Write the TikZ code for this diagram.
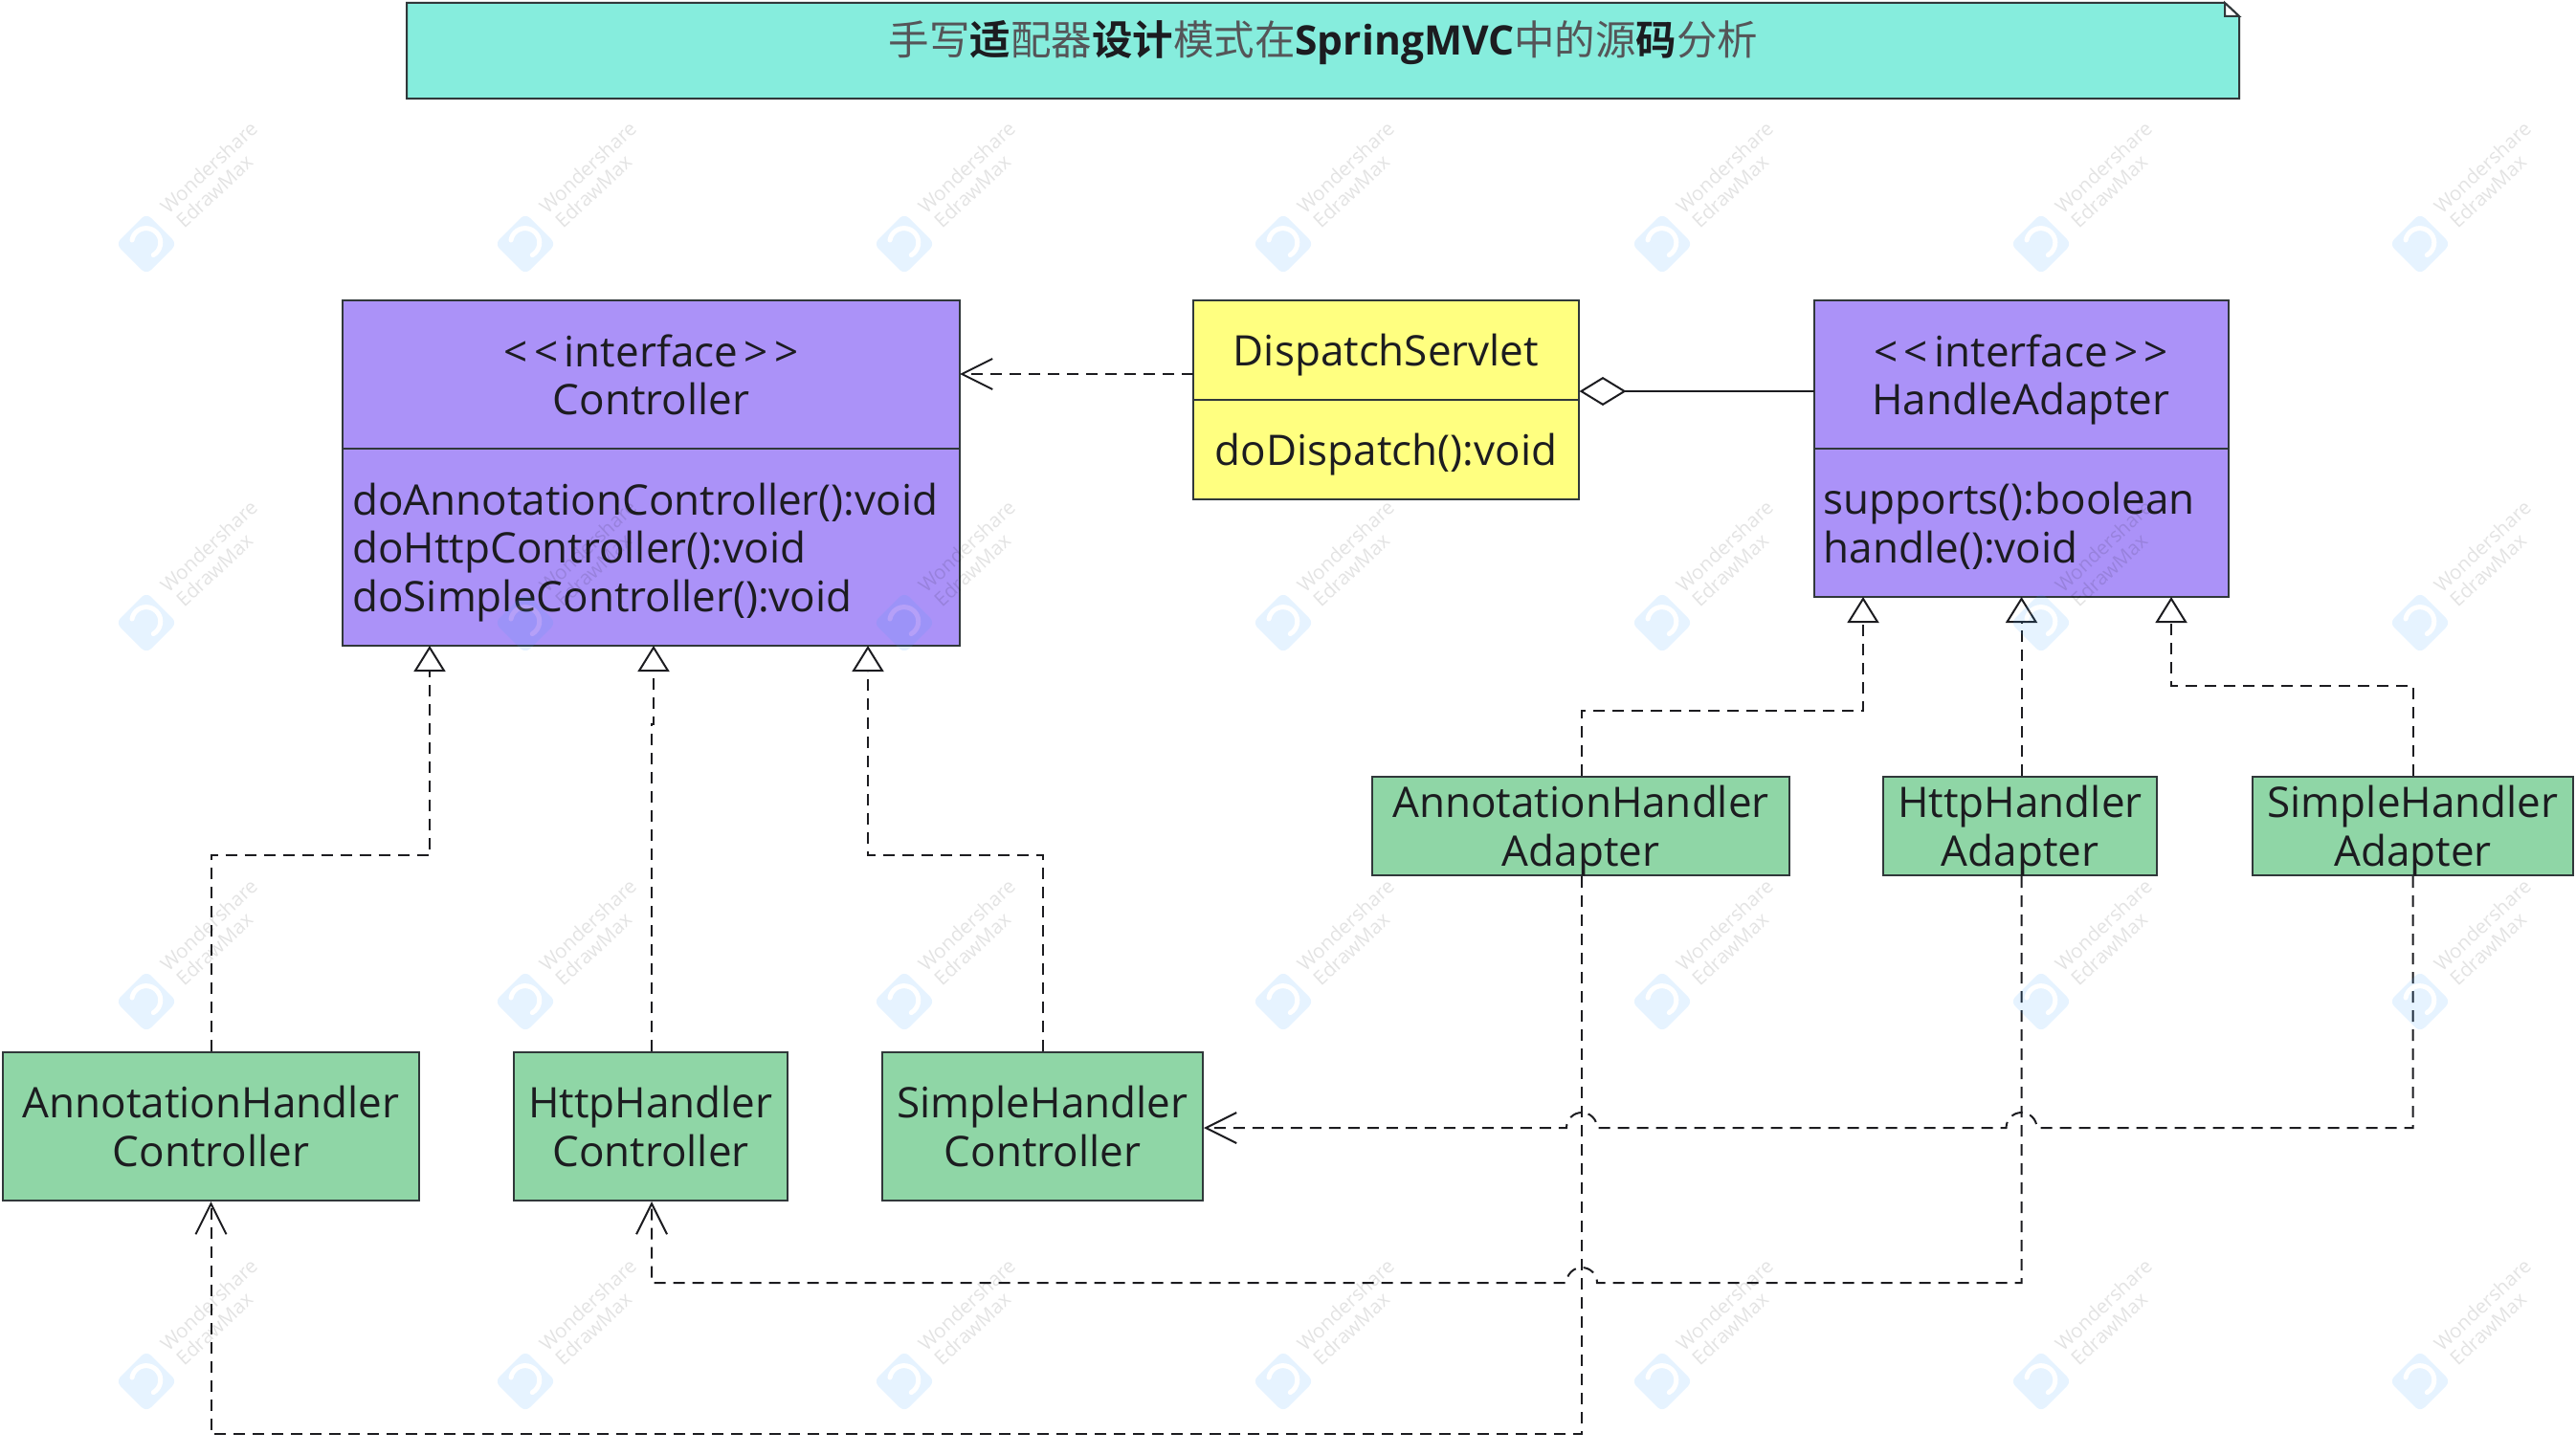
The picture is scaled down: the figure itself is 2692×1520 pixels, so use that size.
\documentclass[tikz,border=0pt]{standalone}
\usepackage{fontspec}
\setmainfont{Open Sans}
\newfontfamily\cjk{Noto Sans CJK SC}
\newfontfamily\cjkb{Noto Sans CJK SC Bold}
\usetikzlibrary{arrows.meta}
\definecolor{ink}{HTML}{1C1C20}
\definecolor{edge}{HTML}{30383A}
\definecolor{purp}{HTML}{AB92F8}
\definecolor{yell}{HTML}{FFFF80}
\definecolor{gren}{HTML}{8FD6A6}
\definecolor{teal}{HTML}{86EDDD}
\definecolor{wmblue}{HTML}{3CA0FF}
\newcommand{\ifacelabel}{<\kern6.5pt<\kern6.5pt interface\kern6.5pt>\kern6.5pt>}
\tikzset{
  boxtext/.style={inner sep=0pt,text=ink,align=left,text depth=0pt,
    font=\fontsize{44}{50.5}\selectfont},
  box/.style={draw=edge,line width=2pt,inner sep=0pt,text=ink,align=center,text depth=0pt,
    font=\fontsize{44}{50.5}\selectfont},
  purplebox/.style={box,fill=purp},
  yellowbox/.style={box,fill=yell},
  greenbox/.style={box,fill=gren},
  conn/.style={draw=ink,line width=2pt},
  dashline/.style={conn,dash pattern=on 12pt off 8pt},
  realize/.style={dashline,-{Triangle[open,fill=white,length=27pt,width=33pt,line width=2pt]}},
  depend/.style={dashline,-{Straight Barb[length=32pt,width=32pt,line width=2pt]}},
  aggr/.style={conn,{Diamond[open,fill=white,length=49pt,width=30pt,line width=2pt]}-},
  wmlogo/.style={fill=wmblue,rounded corners=7pt},
  wmarc/.style={draw=white,line width=5pt,line cap=round},
  wmtext/.style={text=black,opacity=.11,rotate=43,inner sep=0pt,font=\fontsize{20.5}{24}\selectfont},
}
\begin{document}
\begin{tikzpicture}[x=1pt,y=-1pt]
\useasboundingbox (0,0) rectangle (2692,1520);
% title note
\path[fill=teal,draw=edge,line width=2pt,line join=miter]
  (425,3) -- (2325,3) -- (2340,17) -- (2340,103) -- (425,103) -- cycle;
\path[fill=white,draw=edge,line width=2pt] (2325,3) -- (2340,17) -- (2325,17) -- cycle;
\node[text=ink,inner sep=0pt,font=\fontsize{42.5}{50}\selectfont] (title) at (1383,45)
  {\color{ink!75}\cjk 手写{\color{ink}\cjkb 适}配器{\color{ink}\cjkb 设计}模式在{\color{ink}\rmfamily\bfseries SpringMVC}中的源{\color{ink}\cjkb 码}分析};
% controller
\node[purplebox,minimum width=645pt,minimum height=155pt] (ch) at (680.5,391.5) {\ifacelabel\\Controller};
\node[purplebox,minimum width=645pt,minimum height=206pt] (cb) at (680.5,572) {};
\node[boxtext,anchor=west] (cbt) at ([xshift=11pt]cb.west)
  {doAnnotationController():void\\doHttpController():void\\doSimpleController():void};
% dispatch
\node[yellowbox,minimum width=403pt,minimum height=104pt] (dh) at (1448.5,366) {DispatchServlet};
\node[yellowbox,minimum width=403pt,minimum height=104pt] (db) at (1448.5,470) {doDispatch():void};
% handle adapter
\node[purplebox,minimum width=433pt,minimum height=155pt] (hh) at (2112,391.5) {\ifacelabel\\HandleAdapter};
\node[purplebox,minimum width=433pt,minimum height=155pt] (hb) at (2112,546.5) {};
\node[boxtext,anchor=west] (hbt) at ([xshift=11pt]hb.west) {supports():boolean\\handle():void};
% green top row
\node[greenbox,minimum width=436pt,minimum height=103pt] (aha) at (1652,863.5) {AnnotationHandler\\Adapter};
\node[greenbox,minimum width=286pt,minimum height=103pt] (hha) at (2111,863.5) {HttpHandler\\Adapter};
\node[greenbox,minimum width=335pt,minimum height=103pt] (sha) at (2521.5,863.5) {SimpleHandler\\Adapter};
% green bottom row
\node[greenbox,minimum width=435pt,minimum height=155pt] (ahc) at (220.5,1177.5) {AnnotationHandler\\Controller};
\node[greenbox,minimum width=286pt,minimum height=155pt] (hhc) at (680,1177.5) {HttpHandler\\Controller};
\node[greenbox,minimum width=335pt,minimum height=155pt] (shc) at (1089.5,1177.5) {SimpleHandler\\Controller};
% named points
\coordinate (c1) at (449,675);
\coordinate (c2) at (683,675);
\coordinate (c3) at (907,675);
\coordinate (kc1) at (449,894);
\coordinate (kc2) at (683,757);
\coordinate (kc2b) at (681,757);
\coordinate (kc3) at (907,894);
\coordinate (h1) at (1947,624);
\coordinate (h2) at (2112.5,624);
\coordinate (h3) at (2269,624);
\coordinate (kh1) at (1947,743);
\coordinate (kh3) at (2269,717);
\coordinate (jsa) at (1653,1179);
\coordinate (jsh) at (2112.5,1179);
\coordinate (jha) at (1653,1341);
\coordinate (ja) at (220.5,1499);
\coordinate (dc) at (1003,391);
\coordinate (ds) at (1247,391);
\coordinate (da) at (1650.5,409);
\coordinate (dh2) at (1895.5,409);
% realisations to Controller
\draw[realize] (ahc.north) |- (kc1) -- (c1);
\draw[realize] (kc2b |- hhc.north) -- (kc2b) -- (kc2) -- (c2);
\draw[realize] (shc.north) |- (kc3) -- (c3);
% realisations to HandleAdapter
\draw[realize] (aha.north -| jsa) |- (kh1) -- (h1);
\draw[realize] (hha.north -| h2) -- (h2);
\draw[realize] (sha.north) |- (kh3) -- (h3);
% dispatch links
\draw[depend] (ds) -- (dc);
\draw[aggr] (da) -- (dh2);
% dependencies from adapters to controllers
\draw[depend] (sha.south) |- ([xshift=16pt]jsh) arc[start angle=0,end angle=180,radius=16pt]
  -- ([xshift=16pt]jsa) arc[start angle=0,end angle=180,radius=16pt] -- (shc.east |- jsa);
\draw[depend] (hha.south -| jsh) |- ([xshift=16pt]jha) arc[start angle=0,end angle=180,radius=16pt]
  -| (kc2b |- hhc.south);
\draw[depend] (aha.south -| jsa) |- (ja) -- (ahc.south);
% watermarks
\foreach \i/\wx in {1/153,2/549,3/945,4/1341,5/1737,6/2133,7/2529}
  \foreach \j/\wy in {1/255,2/651,3/1047,4/1444}{
    \begin{scope}[transparency group,opacity=.13]
      \path[wmlogo] (\wx,\wy) ++(-32,0) -- ++(32,-32) -- ++(32,32) -- ++(-32,32) -- cycle;
      \draw[wmarc] (\wx,\wy) ++(-15,-4) arc[start angle=170,end angle=-60,radius=15pt];
    \end{scope}
    \node[wmtext] (wma\i\j) at (\wx+65,\wy-80) {Wondershare};
    \node[wmtext] (wmb\i\j) at (\wx+71,\wy-55) {EdrawMax};
  }
\end{tikzpicture}
\end{document}
